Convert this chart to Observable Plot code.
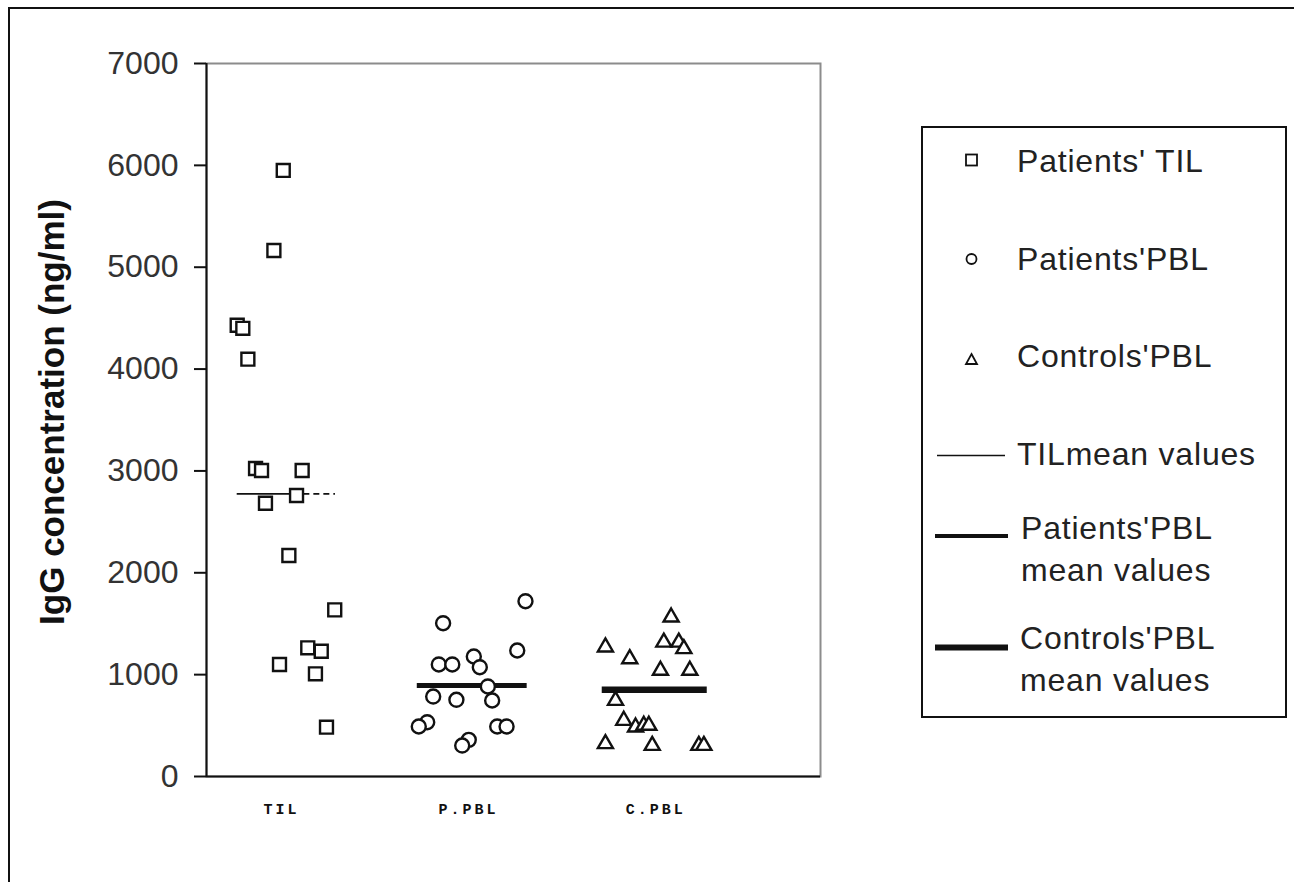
<!DOCTYPE html>
<html><head><meta charset="utf-8">
<script src="https://cdn.jsdelivr.net/npm/d3@7"></script>
<script src="https://cdn.jsdelivr.net/npm/@observablehq/plot@0.6"></script>
<style>
html,body{margin:0;padding:0;background:#fff;overflow:hidden;width:1294px;height:882px}
#wrap{position:relative;width:1294px;height:882px;overflow:hidden}
#outer{position:absolute;left:8px;top:7px;width:2000px;height:2000px;border:2px solid #111;box-sizing:border-box}
#chart{position:absolute;left:0;top:0}
#legend{position:absolute;left:0;top:0}
g[aria-label="x-axis tick label"] text{letter-spacing:3px}
#legend text{font-family:'Liberation Sans',Arial,sans-serif;font-size:32px;fill:#222;letter-spacing:0.8px}
</style></head>
<body><div id="wrap"><div id="outer"></div><div id="chart"></div>
<svg id="legend" width="1294" height="882" xmlns="http://www.w3.org/2000/svg"></svg></div>
<script>
// ---- data ----
const categories = ["TIL", "P.PBL", "C.PBL"];
const categoryPos = [1, 2, 3];
const yTicks = [0, 1000, 2000, 3000, 4000, 5000, 6000, 7000];
const yLabel = "IgG concentration (ng/ml)";

const tilX = [1.010, 0.960, 0.764, 0.794, 0.821, 0.862, 0.894, 1.111, 0.915, 1.081, 1.040, 1.285, 1.141, 1.213, 0.990, 1.182, 1.241];
const tilY = [5950, 5164, 4430, 4400, 4097, 3024, 3004, 3004, 2683, 2759, 2170, 1636, 1263, 1230, 1100, 1008, 484];

const ppblX = [2.304, 1.864, 2.260, 1.841, 1.913, 2.028, 2.060, 2.103, 1.811, 1.935, 2.126, 1.779, 1.734, 2.153, 2.203, 2.001, 1.966];
const ppblY = [1721, 1505, 1237, 1100, 1100, 1178, 1073, 884, 785, 753, 746, 533, 491, 491, 491, 360, 304];

const cpblX = [3.082, 2.731, 3.043, 3.123, 3.150, 2.861, 3.025, 3.182, 2.785, 2.829, 2.892, 2.936, 2.963, 2.731, 2.981, 3.230, 3.257];
const cpblY = [1564, 1270, 1318, 1318, 1254, 1155, 1041, 1041, 746, 550, 484, 501, 501, 321, 304, 304, 304];

const meanValues = [2775, 893, 851];
const meanStart = [0.764, 1.726, 2.714];
const meanEnd = [1.289, 2.313, 3.275];
const tilDashFrom = 1.12;

const legendLabels = [["Patients' TIL"], ["Patients'PBL"], ["Controls'PBL"], ["TILmean values"], ["Patients'PBL", "mean values"], ["Controls'PBL", "mean values"]];

// ---- tables ----
const pts = (xs, ys) => xs.map((x, i) => ({x, y: ys[i]}));
const til = pts(tilX, tilY), ppbl = pts(ppblX, ppblY), cpbl = pts(cpblX, cpblY);
const seg = (i, a, b) => [{x1: a, x2: b, y: meanValues[i]}];

const sans = "'Liberation Sans',Arial,sans-serif";
const ink = "#111";

const chart = Plot.plot({
  width: 1294, height: 882,
  marginLeft: 206, marginRight: 474, marginTop: 63, marginBottom: 106,
  style: {background: "transparent", fontFamily: sans, color: ink},
  x: {domain: [0.6, 3.88], axis: null},
  y: {domain: [0, 7000], axis: null},
  marks: [
    Plot.frame({stroke: "#8c8c8c", strokeWidth: 2}),
    Plot.ruleX([0.6], {stroke: ink, strokeWidth: 2}),
    Plot.ruleY([0], {stroke: ink, strokeWidth: 2}),
    Plot.axisY({ticks: yTicks, label: null, tickSize: 12, tickPadding: 16, tickFormat: d => String(d),
      fontSize: 32, fontFamily: sans, stroke: ink, strokeWidth: 2, fill: "#333"}),
    Plot.axisX({ticks: categoryPos, label: null, tickFormat: (d, i) => categories[i], tickSize: 0, tickPadding: 27,
      fontSize: 15, fontWeight: "bold", fontFamily: "'Liberation Mono',monospace", fill: ink}),
    Plot.text([yLabel], {text: d => d, frameAnchor: "left", textAnchor: "middle", dx: -154, dy: -8, rotate: -90,
      fontSize: 35, fontWeight: "bold", fontFamily: sans, fill: ink}),
    Plot.ruleY(seg(0, meanStart[0], tilDashFrom), {x1: "x1", x2: "x2", y: "y", stroke: ink, strokeWidth: 1.6}),
    Plot.ruleY(seg(0, tilDashFrom, meanEnd[0]), {x1: "x1", x2: "x2", y: "y", stroke: ink, strokeWidth: 1.6, strokeDasharray: "6,4"}),
    Plot.ruleY(seg(1, meanStart[1], meanEnd[1]), {x1: "x1", x2: "x2", y: "y", stroke: ink, strokeWidth: 5}),
    Plot.ruleY(seg(2, meanStart[2], meanEnd[2]), {x1: "x1", x2: "x2", y: "y", stroke: ink, strokeWidth: 6.5}),
    Plot.dot(til, {x: "x", y: "y", symbol: "square", r: 7.3, fill: "white", stroke: ink, strokeWidth: 2.4}),
    Plot.dot(ppbl, {x: "x", y: "y", symbol: "circle", r: 7, fill: "white", stroke: ink, strokeWidth: 2.4}),
    Plot.dot(cpbl, {x: "x", y: "y", symbol: "triangle", r: 5.6, fill: "white", stroke: ink, strokeWidth: 2.4})
  ]
});
document.getElementById("chart").appendChild(chart);

// ---- legend ----
const L = document.getElementById("legend");
const ns = "http://www.w3.org/2000/svg";
function el(tag, attrs) { const e = document.createElementNS(ns, tag); for (const k in attrs) e.setAttribute(k, attrs[k]); L.appendChild(e); return e; }
el("rect", {x: 922, y: 127, width: 364, height: 590, fill: "white", stroke: ink, "stroke-width": 2});
const mk = {fill: "white", stroke: ink, "stroke-width": 1.8};
el("rect", Object.assign({x: 966, y: 154.5, width: 11, height: 11}, mk));
el("circle", Object.assign({cx: 971.5, cy: 259, r: 5}, mk));
el("path", Object.assign({d: "M971.5,354 L977,364 L966,364 Z"}, mk));
el("line", {x1: 937, x2: 1005, y1: 455.5, y2: 455.5, stroke: ink, "stroke-width": 1.5});
el("line", {x1: 935, x2: 1008, y1: 536, y2: 536, stroke: ink, "stroke-width": 4});
el("line", {x1: 935, x2: 1008, y1: 647.5, y2: 647.5, stroke: ink, "stroke-width": 6});
const textPos = [[1017, [172]], [1017, [270]], [1017, [367]], [1017, [465]], [1021, [539, 581]], [1020, [649, 691]]];
legendLabels.forEach((lines, i) => {
  lines.forEach((s, j) => { const t = el("text", {x: textPos[i][0], y: textPos[i][1][j]}); t.textContent = s; });
});
</script></body></html>
